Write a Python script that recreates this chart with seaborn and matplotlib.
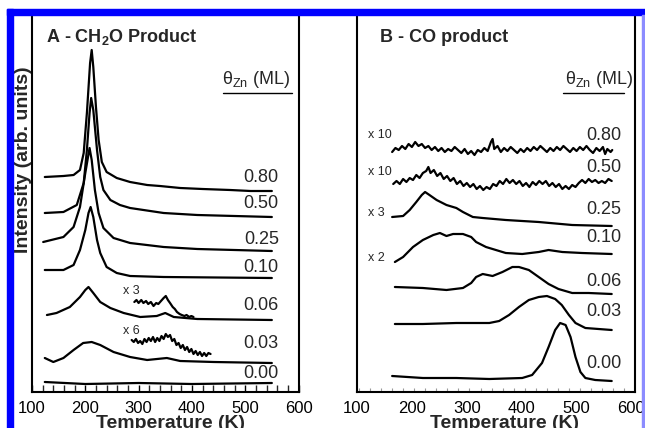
import numpy as np
import pandas as pd
import seaborn as sns
import matplotlib.pyplot as plt
from matplotlib.patches import Rectangle
from matplotlib.ticker import MultipleLocator, FixedLocator

# ---------------- panel A : CH2O product (T in K, intensity arb.) ----------------
a080_t = [124, 159, 178, 190, 197, 203, 209, 212, 215, 220, 225, 231, 240, 259, 284, 316, 340, 378, 420, 472, 510, 550]
a080_i = [215, 216, 217, 222, 239, 279, 329, 342, 325, 285, 252, 230, 220, 214, 210, 207, 206, 204, 203, 202, 201, 201]

a050_t = [124, 159, 184, 197, 203, 208, 211, 215, 222, 228, 234, 247, 265, 284, 347, 410, 550]
a050_i = [179, 180, 187, 209, 242, 279, 294, 282, 242, 215, 202, 192, 187, 184, 179, 177, 175]

a025_t = [121, 159, 178, 190, 200, 208, 212, 218, 225, 234, 253, 284, 347, 410, 550]
a025_i = [150, 155, 165, 185, 219, 244, 232, 202, 179, 164, 154, 149, 145, 143, 141]

a010_t = [124, 159, 178, 190, 200, 206, 210, 215, 222, 228, 240, 259, 284, 347, 550]
a010_i = [122, 122, 127, 142, 162, 179, 185, 175, 152, 139, 125, 119, 116, 115, 114]

a006_t = [128, 146, 171, 190, 200, 206, 215, 228, 247, 272, 303, 334, 350, 366, 410, 550]
a006_i = [77, 79, 85, 95, 102, 105, 99, 90, 84, 79, 75, 76, 79, 75, 73, 72]

a006x3_t = [292, 296, 300, 305, 309, 314, 318, 323, 328, 333, 337, 342, 347, 351, 355, 359,
            364, 368, 372, 377, 381, 386, 390, 395, 399, 403]
a006x3_i = [90, 92, 89, 92, 89, 91, 88, 90, 86, 89, 88, 91, 94, 96, 92, 89,
            85, 83, 80, 78, 77, 76, 77, 75, 76, 75]

a003_t = [124, 140, 159, 178, 196, 212, 228, 253, 284, 316, 353, 378, 441, 550]
a003_i = [34, 30, 34, 42, 49, 50, 47, 40, 35, 32, 34, 31, 30, 29]

a003x6_t = [287, 291, 295, 299, 303, 307, 311, 315, 319, 323, 327, 331, 335, 339, 343, 347, 351, 355, 359,
            363, 367, 371, 375, 379, 383, 387, 391, 395, 399, 403, 407, 411, 415, 419, 423, 427, 431, 435]
a003x6_i = [52, 50, 53, 49, 51, 48, 53, 50, 54, 51, 55, 50, 54, 51, 56, 53, 58, 55, 57,
            51, 53, 47, 49, 44, 47, 42, 45, 40, 43, 38, 41, 37, 40, 36, 39, 36, 39, 38]

a000_t = [124, 200, 300, 400, 550]
a000_i = [10, 8, 9, 8, 9]

# ---------------- panel B : CO product ----------------
b080_t = [164, 170, 176, 182, 188, 194, 200, 206, 212, 218, 224, 230, 236, 242, 248, 254, 260, 266, 272, 278,
          284, 290, 296, 302, 308, 314, 320, 326, 332, 338, 344, 347, 350, 356, 362, 368, 374, 380, 386, 392,
          398, 404, 410, 416, 422, 428, 434, 440, 446, 452, 458, 464, 470, 476, 482, 488, 494, 500, 506, 512,
          518, 524, 530, 536, 542, 548, 552, 556, 562, 565]
b080_i = [240, 244, 242, 246, 243, 248, 245, 250, 246, 248, 244, 246, 242, 245, 241, 244, 240, 243, 241, 245,
          242, 239, 243, 238, 241, 237, 242, 240, 244, 241, 250, 253, 243, 246, 240, 244, 241, 245, 242, 239,
          243, 240, 244, 241, 245, 242, 246, 243, 240, 244, 241, 245, 242, 246, 243, 240, 244, 241, 245, 242,
          246, 242, 239, 244, 241, 245, 238, 243, 240, 242]

b050_t = [166, 172, 178, 184, 190, 196, 202, 208, 214, 220, 226, 230, 234, 240, 246, 252, 258, 264, 270, 276,
          282, 288, 294, 300, 306, 312, 318, 324, 330, 336, 342, 348, 354, 360, 366, 372, 378, 384, 390, 396,
          402, 408, 414, 420, 426, 432, 438, 444, 450, 456, 462, 468, 474, 480, 486, 492, 498, 504, 510, 516,
          522, 528, 534, 540, 546, 552, 558, 564]
b050_i = [208, 211, 208, 213, 210, 214, 212, 217, 214, 219, 221, 225, 219, 222, 216, 219, 213, 216, 211, 214,
          208, 211, 206, 209, 205, 208, 203, 206, 202, 205, 203, 208, 206, 211, 208, 213, 209, 212, 208, 211,
          206, 209, 205, 210, 207, 211, 208, 211, 206, 209, 205, 208, 203, 206, 203, 207, 205, 209, 212, 209,
          213, 210, 212, 209, 211, 209, 213, 211]

b025_t = [164, 184, 196, 208, 218, 224, 232, 245, 263, 281, 293, 311, 329, 371, 431, 492, 564]
b025_i = [175, 176, 182, 190, 197, 200, 197, 192, 187, 184, 180, 175, 174, 172, 170, 167, 166]

b010_t = [169, 184, 202, 220, 239, 251, 263, 275, 293, 308, 317, 335, 353, 371, 401, 431, 449, 474, 510, 564]
b010_i = [130, 135, 145, 152, 157, 159, 156, 158, 158, 155, 150, 145, 142, 139, 138, 140, 142, 140, 139, 138]

b006_t = [169, 220, 263, 293, 308, 317, 329, 347, 365, 383, 395, 413, 431, 449, 467, 492, 522, 564]
b006_i = [105, 104, 102, 104, 109, 115, 118, 116, 120, 125, 125, 122, 115, 108, 103, 99, 99, 98]

b003_t = [169, 220, 281, 341, 359, 377, 395, 413, 431, 446, 461, 473, 486, 498, 516, 540, 564]
b003_i = [68, 68, 69, 69, 71, 77, 85, 92, 95, 96, 93, 87, 77, 69, 64, 63, 62]

b000_t = [164, 220, 281, 341, 401, 419, 437, 449, 461, 470, 480, 489, 498, 507, 516, 534, 564]
b000_i = [16, 14, 14, 13, 14, 17, 29, 45, 62, 69, 67, 55, 35, 20, 14, 12, 11]

coverages = ['0.80', '0.50', '0.25', '0.10', '0.06', '0.03', '0.00']
a_label_y = [214, 189, 152, 125, 87, 49, 19]
b_label_y = [257, 225, 182, 154, 110, 80, 29]

a_curves = [(a080_t, a080_i), (a050_t, a050_i), (a025_t, a025_i), (a010_t, a010_i),
            (a006_t, a006_i), (a006x3_t, a006x3_i), (a003_t, a003_i), (a003x6_t, a003x6_i),
            (a000_t, a000_i)]
b_curves = [(b080_t, b080_i), (b050_t, b050_i), (b025_t, b025_i), (b010_t, b010_i),
            (b006_t, b006_i), (b003_t, b003_i), (b000_t, b000_i)]

sns.set_theme(style='white')
plt.rcParams['font.family'] = ['Liberation Sans', 'DejaVu Sans']
plt.rcParams['mathtext.default'] = 'regular'

fig = plt.figure(figsize=(6.45, 4.28), dpi=100)
axA = fig.add_axes([32 / 645, 36 / 428, 266.5 / 645, 379 / 428])
axB = fig.add_axes([357 / 645, 36 / 428, 277.5 / 645, 379 / 428])

for t, i in a_curves:
    sns.lineplot(x=t, y=i, ax=axA, color='black', lw=1.6, sort=False, estimator=None)
for t, i in b_curves:
    sns.lineplot(x=t, y=i, ax=axB, color='black', lw=1.6, sort=False, estimator=None)

axA.set_xlim(100, 600)
axB.set_xlim(100, 605.5)
for ax in (axA, axB):
    ax.set_ylim(0, 379)
    ax.set_yticks([])
    ax.set_xlabel('')
    ax.set_ylabel('')
    for s in ax.spines.values():
        s.set_color('black')
        s.set_linewidth(1.5)
    ax.set_xticks([100, 200, 300, 400, 500, 600])
    ax.tick_params(axis='x', labelsize=12, pad=6.5, colors='black')

axA.xaxis.set_minor_locator(MultipleLocator(20))
axA.tick_params(axis='x', which='both', direction='in', length=5, width=1, bottom=True)

axB.xaxis.set_minor_locator(FixedLocator(np.arange(103.6, 606, 20.13)))
axB.tick_params(axis='x', which='major', direction='in', length=0, bottom=True)
axB.tick_params(axis='x', which='minor', direction='in', length=3, width=0.8, color='#999999', bottom=True)

# panel titles and legends
axA.text(126, 355, 'A - CH$_2$O Product', fontsize=13, fontweight='bold', va='center', ha='left')
axB.text(142, 355, 'B - CO product', fontsize=13, fontweight='bold', va='center', ha='left')
axA.text(457, 312, r'θ$_{Zn}$ (ML)', fontsize=13, va='center', ha='left')
axB.text(478, 313, r'θ$_{Zn}$ (ML)', fontsize=13, va='center', ha='left')
axA.plot([458, 588], [299, 299], color='black', lw=1)
axB.plot([476, 586], [299, 299], color='black', lw=1)

for lab, y in zip(coverages, a_label_y):
    axA.text(563, y, lab, fontsize=13, ha='right', va='center')
for lab, y in zip(coverages, b_label_y):
    axB.text(582, y, lab, fontsize=13, ha='right', va='center')

axA.text(271, 101, 'x 3', fontsize=9, ha='left', va='center')
axA.text(271, 61, 'x 6', fontsize=9, ha='left', va='center')
for lab, y in zip(['x 10', 'x 10', 'x 3', 'x 2'], [257, 220, 179, 134]):
    axB.text(120, y, lab, fontsize=9, ha='left', va='center')

fig.text(171 / 645, 0.0315, 'Temperature (K)', fontsize=14, fontweight='bold', ha='center', va='top')
fig.text(505 / 645, 0.0315, 'Temperature (K)', fontsize=14, fontweight='bold', ha='center', va='top')
fig.text(24 / 645, 0.626, 'Intensity (arb. units)', fontsize=14, fontweight='bold',
         rotation=90, ha='center', va='center')

# blue frame of the scanned figure
fig.add_artist(Rectangle((7 / 645, 0), 6 / 645, 419 / 428, transform=fig.transFigure,
                         color='#0000ff', zorder=10))
fig.add_artist(Rectangle((7 / 645, 413 / 428), 638 / 645, 6 / 428, transform=fig.transFigure,
                         color='#0000ff', zorder=10))
fig.add_artist(Rectangle((641.5 / 645, 0), 3.5 / 645, 413 / 428, transform=fig.transFigure,
                         color='#8c8cff', zorder=10))

fig.savefig('out.png', dpi=100)
